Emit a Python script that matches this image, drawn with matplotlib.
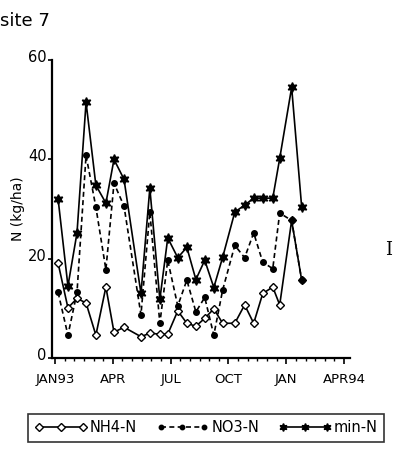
import numpy as np
import matplotlib
matplotlib.use("Agg")
import matplotlib.pyplot as plt
import matplotlib.transforms as mtransforms

# DATA -------------------------------------------------------
# sampling dates in months after 1 Jan 1993
months = [0.16, 0.67, 1.14, 1.61, 2.12, 2.64, 3.06, 3.58, 4.46, 4.92,
          5.44, 5.85, 6.37, 6.84, 7.31, 7.77, 8.24, 8.70, 9.33, 9.84,
          10.31, 10.78, 11.30, 11.66, 12.28, 12.80]

nh4 = [19.1, 10.1, 12.0, 11.1, 4.6, 14.3, 5.2, 6.2, 4.3, 5.0,
       4.8, 4.8, 9.5, 7.0, 6.4, 8.0, 9.9, 7.0, 7.0, 10.7,
       7.0, 13.0, 14.3, 10.7, 27.7, 15.7]

no3 = [13.2, 4.6, 13.2, 40.8, 30.4, 17.8, 35.2, 30.6, 8.7, 29.4,
       7.0, 19.7, 10.5, 15.7, 9.3, 12.2, 4.6, 13.7, 22.7, 20.2,
       25.2, 19.3, 18.0, 29.2, 27.7, 15.7]

min_n = [32.0, 14.5, 25.2, 51.5, 34.8, 31.2, 40.0, 36.0, 13.0, 34.2,
         11.8, 24.2, 20.2, 22.3, 15.8, 19.7, 14.2, 20.3, 29.4, 30.8,
         32.2, 32.2, 32.2, 40.2, 54.5, 30.4]

tick_pos = [0, 3, 6, 9, 12, 15]
tick_labels = ["JAN93", "APR", "JUL", "OCT", "JAN", "APR94"]
y_ticks = [0, 20, 40, 60]

# PLOT -------------------------------------------------------
plt.rcParams['font.family'] = ['DejaVu Sans']

fig = plt.figure(figsize=(3.98, 4.5), dpi=100)
ax = fig.add_axes([0.131, 0.2044, 0.748, 0.662])

ax.plot(months, nh4, '-', color='black', lw=1.2, marker='D', ms=4.5,
        mfc='white', mec='black', mew=1.0, label='NH4-N', zorder=3)
ax.plot(months, no3, '--', color='black', lw=1.2, dashes=(3, 2),
        marker='o', ms=4, mfc='black', mec='black', label='NO3-N', zorder=4)
ax.plot(months, min_n, '-', color='black', lw=1.2, marker=(6, 1, 0),
        ms=7, mfc='black', mec='black', label='min-N', zorder=5)

ax.set_xlim(-0.15, 15.3)
ax.set_ylim(0, 60)
ax.set_xticks(tick_pos)
ax.set_xticklabels(tick_labels)
ax.set_xticks(np.arange(0, 15.5, 0.5), minor=True)
ax.set_yticks(y_ticks)

for s in ['top', 'right']:
    ax.spines[s].set_visible(False)
for s in ['left', 'bottom']:
    ax.spines[s].set_linewidth(1.6)

ax.tick_params(axis='x', which='major', direction='out', length=4, width=1.2,
               labelsize=9.5, pad=7)
ax.tick_params(axis='x', which='minor', direction='out', length=2.5, width=1.0)
ax.tick_params(axis='y', which='major', direction='out', length=3, width=1.2,
               labelsize=10.5, pad=1)

# y tick labels sit a little above their ticks
shift = mtransforms.ScaledTranslation(0, 4 / 100, fig.dpi_scale_trans)
for lab in ax.get_yticklabels():
    lab.set_transform(lab.get_transform() + shift)

ax.set_ylabel("N (kg/ha)", fontsize=10, labelpad=2)

fig.text(0.0, 0.953, "site 7", fontsize=13, ha='left', va='center')
fig.text(0.985, 0.445, "I", fontsize=13, family='DejaVu Serif',
         ha='right', va='center')

leg = fig.legend(loc='center', bbox_to_anchor=(0.518, 0.049),
                 ncol=3, numpoints=3, handlelength=3.6, handletextpad=0.2,
                 columnspacing=1.3, fontsize=10.5, frameon=True,
                 fancybox=False, borderpad=0.45, borderaxespad=0,
                 markerscale=0.8)
leg.get_frame().set_edgecolor('black')
leg.get_frame().set_linewidth(1.2)

fig.savefig("out.png", dpi=100)
